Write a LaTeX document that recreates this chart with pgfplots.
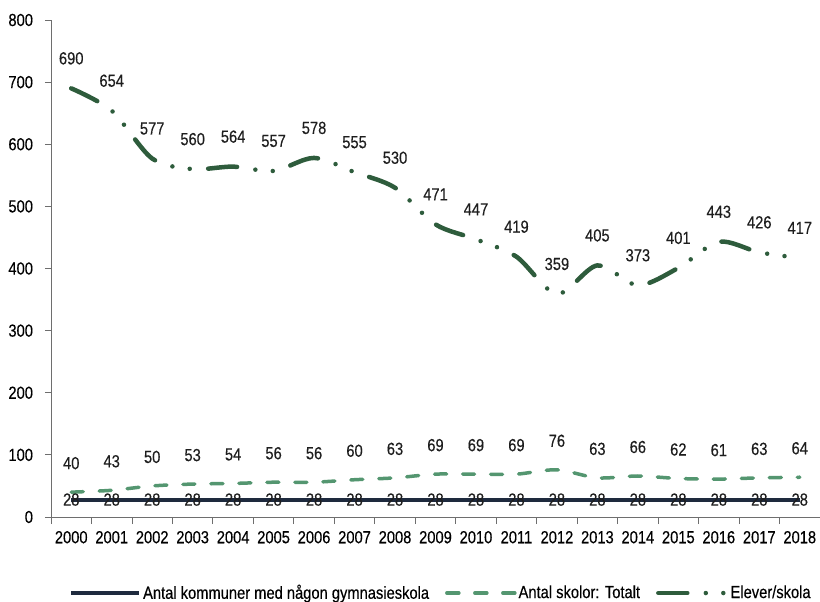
\documentclass[border=0pt]{standalone}
\usepackage{pgfplots}
\pgfplotsset{compat=1.18}
\usepackage{fontspec}
\setmainfont[FakeStretch=0.84,FakeBold=0.3]{Liberation Sans}
\definecolor{navyk}{RGB}{30,42,62}
\definecolor{greens}{RGB}{84,150,112}
\definecolor{greene}{RGB}{46,92,60}
\definecolor{axgray}{RGB}{110,110,110}
\definecolor{lblgray}{RGB}{30,30,30}
\pgfplotstableread{
x kom sko ele
0 28 40 690
1 28 43 654
2 28 50 577
3 28 53 560
4 28 54 564
5 28 56 557
6 28 56 578
7 28 60 555
8 28 63 530
9 28 69 471
10 28 69 447
11 28 69 419
12 28 76 359
13 28 63 405
14 28 66 373
15 28 62 401
16 28 61 443
17 28 63 426
18 28 64 417
}\datatable
\begin{document}
\fontsize{17.5bp}{21bp}\selectfont
\begin{tikzpicture}
\begin{axis}[
  scale only axis,
  width=769bp, height=497bp,
  xmin=-0.5, xmax=18.5, ymin=0, ymax=800,
  axis x line=bottom, axis y line=left,
  axis line style={-, draw=axgray, line width=0.8bp},
  xtick={0,...,18},
  xticklabels={2000,2001,2002,2003,2004,2005,2006,2007,2008,2009,2010,2011,2012,2013,2014,2015,2016,2017,2018},
  minor xtick={-0.5,0.5,...,18.5},
  ytick={0,100,...,800},
  tick align=outside,
  major tick length=6bp, minor tick length=7bp,
  major x tick style={draw=none},
  minor x tick style={draw=axgray, line width=0.8bp},
  major y tick style={draw=axgray, line width=0.8bp},
  /pgf/number format/assume math mode=true,
  /pgf/number format/1000 sep={},
  ticklabel style={font=\fontsize{17.5bp}{21bp}\selectfont, text=black},
  yticklabel style={xshift=-6bp},
  xticklabel style={yshift=-2bp},
  point meta=y,
  nodes near coords,
  every node near coord/.append style={font=\fontsize{17.5bp}{21bp}\selectfont, text=lblgray, anchor=center},
  legend style={at={(0.507,-0.153)}, anchor=center, draw=none, fill=none,
    font=\fontsize{17.5bp}{21bp}\selectfont, /tikz/every even column/.append style={column sep=14bp}},
  legend columns=3,
  legend image code/.code={\draw[#1] (0bp,0bp) -- (68bp,0bp);},
]
\addplot[navyk, line width=4bp, mark=none, every node near coord/.append style={yshift=0bp}] table[x=x,y=kom] {\datatable};
\addlegendentry{Antal kommuner med någon gymnasieskola}
\addplot[greens, line width=3.5bp, line cap=round, dash pattern=on 12bp off 16bp, smooth, mark=none, every node near coord/.append style={yshift=29bp}] table[x=x,y=sko] {\datatable};
\addlegendentry{Antal skolor: Totalt}
\addplot[greene, line width=4.5bp, line cap=round, dash pattern=on 29bp off 18.5bp on 0bp off 17.5bp on 0bp off 18.5bp, smooth, mark=none, every node near coord/.append style={yshift=30bp}] table[x=x,y=ele] {\datatable};
\addlegendentry{Elever/skola}
\end{axis}
\pgfresetboundingbox
\path (-51bp,-85bp) rectangle (769bp,517bp);
\end{tikzpicture}
\end{document}
